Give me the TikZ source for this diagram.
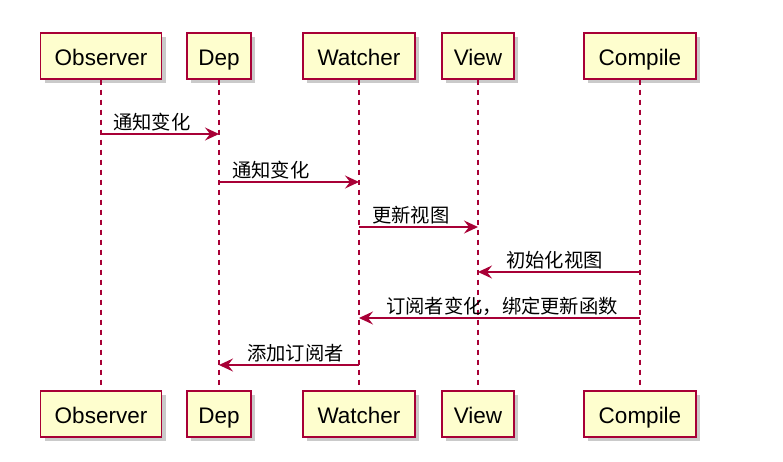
\documentclass[tikz,border=0pt]{standalone}
\usepackage{fontspec}
\setmainfont{Liberation Sans}
\newfontfamily\cjk{Noto Sans CJK SC}
\usetikzlibrary{arrows.meta, positioning, shadows}
\definecolor{umlred}{HTML}{A80036}
\definecolor{umlfill}{HTML}{FEFECE}
\tikzstyle{actor} = [rectangle, draw=umlred, fill=umlfill, line width=1.3pt, minimum height=46pt, text centered, inner xsep=0pt, inner ysep=0pt, text height=20pt, text depth=1pt, font=\fontsize{22.5}{25}\selectfont, drop shadow={shadow xshift=4pt, shadow yshift=-4pt, opacity=0.35, fill=black!60}]
\tikzstyle{lifeline} = [umlred, line width=1.1pt, dash pattern=on 5pt off 5pt]
\tikzstyle{msg} = [umlred, line width=1.3pt, -{Stealth[length=14pt, width=13pt, inset=5pt]}]
\tikzstyle{lbl} = [font=\cjk\fontsize{19.3}{21}\selectfont, inner sep=0pt, anchor=base west]

\begin{document}
\begin{tikzpicture}[x=1pt, y=-1pt]
\useasboundingbox (0,0) rectangle (783,461);

% participants, top row
\node (obsT) [actor, minimum width=121pt] at (101,56) {Observer};
\node (depT) [actor, minimum width=64pt] at (219,56) {Dep};
\node (watT) [actor, minimum width=112pt] at (359,56) {Watcher};
\node (viewT) [actor, minimum width=72pt] at (478,56) {View};
\node (compT) [actor, minimum width=112pt] at (640,56) {Compile};

% participants, bottom row
\node (obsB) [actor, minimum width=121pt] at (101,414) {Observer};
\node (depB) [actor, minimum width=64pt] at (219,414) {Dep};
\node (watB) [actor, minimum width=112pt] at (359,414) {Watcher};
\node (viewB) [actor, minimum width=72pt] at (478,414) {View};
\node (compB) [actor, minimum width=112pt] at (640,414) {Compile};

% lifelines
\draw [lifeline] (obsT) -- (obsB);
\draw [lifeline] (depT) -- (depB);
\draw [lifeline] (watT) -- (watB);
\draw [lifeline] (viewT) -- (viewB);
\draw [lifeline] (compT) -- (compB);

% message levels
\coordinate (y1) at (0,134);
\coordinate (y2) at (0,182);
\coordinate (y3) at (0,227);
\coordinate (y4) at (0,272);
\coordinate (y5) at (0,318);
\coordinate (y6) at (0,365);

% messages
\draw [msg] (obsT |- y1) -- (depT |- y1);
\node (m1) [lbl] at (113,129) {通知变化};
\draw [msg] (depT |- y2) -- (watT |- y2);
\node (m2) [lbl] at (232,177) {通知变化};
\draw [msg] (watT |- y3) -- (viewT |- y3);
\node (m3) [lbl] at (372,222) {更新视图};
\draw [msg] (compT |- y4) -- (viewT |- y4);
\node (m4) [lbl] at (506,267) {初始化视图};
\draw [msg] (compT |- y5) -- (watT |- y5);
\node (m5) [lbl] at (386,313) {订阅者变化，绑定更新函数};
\draw [msg] (watT |- y6) -- (depT |- y6);
\node (m6) [lbl] at (247,360) {添加订阅者};

\end{tikzpicture}
\end{document}
